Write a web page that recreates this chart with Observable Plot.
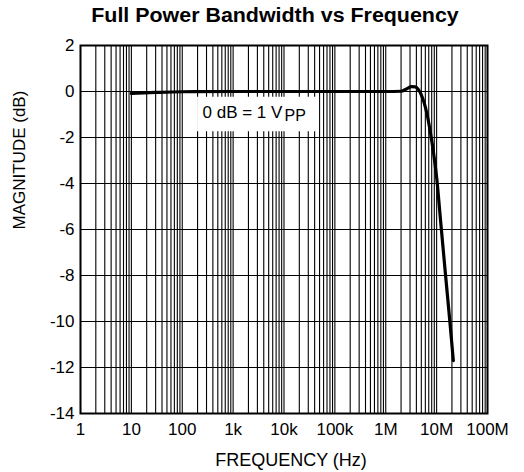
<!DOCTYPE html>
<html>
<head>
<meta charset="utf-8">
<script src="https://cdn.jsdelivr.net/npm/d3@7"></script>
<script src="https://cdn.jsdelivr.net/npm/@observablehq/plot@0.6"></script>
<style>
  html, body { margin: 0; padding: 0; background: #fff; }
  #wrap { width: 524px; height: 472px; position: relative; overflow: hidden; font-family: "Liberation Sans", Arial, sans-serif; }
  #title { position: absolute; left: 0; top: 5px; width: 550px; text-align: center; font-weight: bold; font-size: 20px; line-height: 20px; color: #000; transform: scaleX(1.07); transform-origin: 275px 0; }
  #chart { position: absolute; left: 0; top: 37px; }
</style>
</head>
<body>
<div id="wrap">
  <div id="title">Full Power Bandwidth vs Frequency</div>
  <div id="chart"></div>
</div>
<script>
// Data
const freqHz = [10, 30, 100, 1e3, 1e4, 1e5, 1e6, 2e6, 2.6e6, 3.2e6, 3.8e6, 4.4e6, 5e6, 6.5e6, 7.7e6, 9.0e6, 10.3e6, 11.3e6, 12.4e6, 15.0e6, 18.2e6, 21.3e6];
const magnitudeDb = [-0.08, -0.04, -0.01, 0, 0, 0, 0, 0.01, 0.12, 0.21, 0.2, 0.08, -0.15, -1.0, -1.9, -2.9, -4.0, -5.0, -6.0, -8.0, -10.0, -11.7];

const xTickValues = [1, 10, 100, 1e3, 1e4, 1e5, 1e6, 1e7, 1e8];
const xTickLabels = ["1", "10", "100", "1k", "10k", "100k", "1M", "10M", "100M"];
const yTickValues = [-14, -12, -10, -8, -6, -4, -2, 0, 2];
const yTickLabels = ["-14", "-12", "-10", "-8", "-6", "-4", "-2", "0", "2"];

const xLabel = "FREQUENCY (Hz)";
const yLabel = "MAGNITUDE (dB)";

// Annotation "0 dB = 1 VPP" (data units)
const noteBox = [{x1: 200, x2: 5e4, y1: -0.25, y2: -1.75}];
const noteText = [{x: 250, y: -1.17, main: "0 dB = 1 V", sub: "PP"}];

// minor grid at every 1..9 x decade
const gridX = [];
for (let d = 0; d < 8; d++) for (let k = 1; k <= 9; k++) gridX.push(k * Math.pow(10, d));
gridX.push(1e8);

const data = freqHz.map((f, i) => ({f, m: magnitudeDb[i]}));
const font = "'Liberation Sans', Arial, sans-serif";

const plot = Plot.plot({
  width: 524,
  height: 435,
  marginLeft: 80,
  marginRight: 37,
  marginTop: 8,
  marginBottom: 59,
  style: {fontFamily: font, fontSize: "17px", background: "#fff", color: "#000", overflow: "visible"},
  x: {type: "log", domain: [1, 1e8]},
  y: {domain: [-14, 2]},
  marks: [
    Plot.ruleX(gridX, {stroke: "#000", strokeWidth: 1.1}),
    Plot.ruleY(yTickValues, {stroke: "#000", strokeWidth: 1.2}),
    Plot.rect(noteBox, {x1: "x1", x2: "x2", y1: "y1", y2: "y2", fill: "#fff"}),
    Plot.line(data, {x: "f", y: "m", stroke: "#000", strokeWidth: 3.2, curve: "monotone-x"}),
    Plot.text(noteText, {x: "x", y: "y", text: "main", textAnchor: "start", lineAnchor: "bottom", fontSize: 17, fill: "#000"}),
    Plot.text(noteText, {x: "x", y: "y", text: "sub", textAnchor: "start", lineAnchor: "bottom", fontSize: 16, dx: 82, dy: 3, fill: "#000"}),
    Plot.frame({stroke: "#000", strokeWidth: 2}),
    Plot.axisX({ticks: xTickValues, tickFormat: (d) => xTickLabels[xTickValues.indexOf(d)], tickSize: 0, tickPadding: 9, label: null, fontSize: 17}),
    Plot.axisY({ticks: yTickValues, tickFormat: (d) => yTickLabels[yTickValues.indexOf(d)], tickSize: 0, tickPadding: 6, label: null, fontSize: 17}),
    Plot.text([xLabel], {frameAnchor: "bottom", lineAnchor: "bottom", dy: 52, dx: 7, fontSize: 18, fill: "#000"}),
    Plot.text([yLabel], {frameAnchor: "left", rotate: -90, dx: -61, fontSize: 17, fill: "#000"})
  ]
});
document.getElementById("chart").appendChild(plot);
</script>
</body>
</html>
